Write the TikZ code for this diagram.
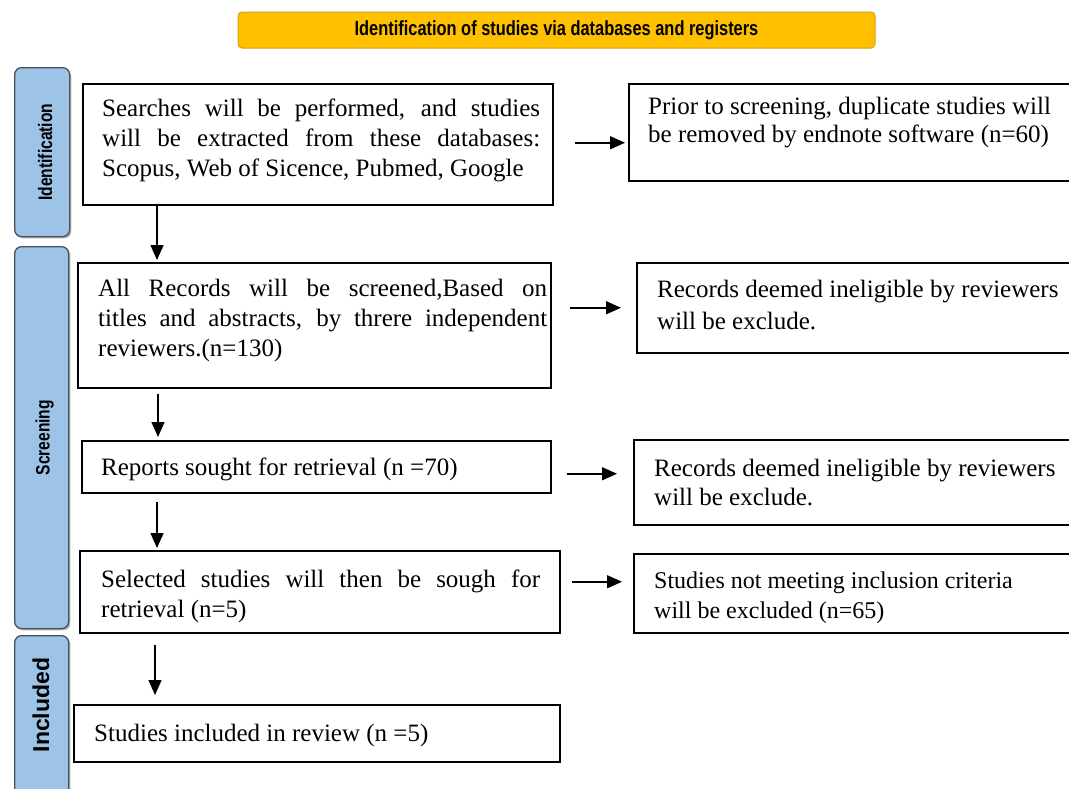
\documentclass[tikz,border=0pt]{standalone}
\usepackage{fontspec}
\setmainfont{Liberation Serif}
\newfontfamily\narrowsans[FakeStretch=0.8]{Liberation Sans}
\newfontfamily\plainsans{Liberation Sans}
\usetikzlibrary{arrows.meta,shadows,calc}
\definecolor{barblue}{RGB}{157,195,230}
\definecolor{baredge}{RGB}{70,80,95}
\definecolor{titlefill}{RGB}{255,192,0}
\definecolor{titleedge}{RGB}{214,160,20}
\begin{document}
\begin{tikzpicture}[x=1pt,y=-1pt,
  box/.style={draw=black, line width=1.5pt, anchor=north west, inner sep=0pt},
  txt/.style={anchor=north west, inner sep=0pt, font=\fontsize{25}{30}\selectfont},
  arr/.style={-{Triangle[length=15pt,width=13pt]}, line width=1.5pt},
  bar/.style={draw=baredge, fill=barblue, line width=1.3pt, rounded corners=7pt,
    drop shadow={shadow xshift=1.8pt, shadow yshift=-1.8pt, fill=black!55},
    anchor=north west, inner sep=0pt},
  barlabel/.style={rotate=90, inner sep=0pt, font=\narrowsans\bfseries\fontsize{19.5}{20}\selectfont},
  titlebox/.style={draw=titleedge, fill=titlefill, line width=1pt, rounded corners=4pt,
    minimum width=637pt, minimum height=36pt, inner sep=0pt,
    font=\narrowsans\bfseries\fontsize{20.5}{21}\selectfont},
  ]
\useasboundingbox (0,0) rectangle (1069,788);
\clip (0,0) rectangle (1069,788);
\fill[white] (0,0) rectangle (1069,788);

% title
\node[titlebox] (title) at (556.5,30) {Identification of studies via databases and registers};

% side bars
\node[bar, minimum width=55pt, minimum height=169pt] (barI) at (14,67) {};
\node[bar, minimum width=54pt, minimum height=382pt] (barS) at (14,246) {};
\node[bar, minimum width=54pt, minimum height=180pt] (barN) at (14,635) {};
\node[barlabel] (labI) at ([xshift=3pt]barI.center) {Identification};
\node[barlabel] (labS) at ([xshift=3pt]barS.center) {Screening};
\node[rotate=90, inner sep=0pt, font=\plainsans\bfseries\fontsize{23}{24}\selectfont] (labN) at (41,705) {Included};

% left boxes
\node[box, minimum width=470pt, minimum height=121pt] (b1) at (82,83) {};
\node[box, minimum width=473pt, minimum height=125pt] (b2) at (77,262) {};
\node[box, minimum width=469pt, minimum height=52pt] (b3) at (81,440) {};
\node[box, minimum width=480pt, minimum height=82pt] (b4) at (79,550) {};
\node[box, minimum width=486pt, minimum height=57pt] (b5) at (73,704) {};

% right boxes
\node[box, minimum width=452pt, minimum height=97pt] (r1) at (628,83) {};
\node[box, minimum width=444pt, minimum height=90pt] (r2) at (636,262) {};
\node[box, minimum width=447pt, minimum height=85pt] (r3) at (633,439) {};
\node[box, minimum width=447pt, minimum height=79pt] (r4) at (633,553) {};

% texts
\node[txt, text width=438pt, align=justify] (t1) at (102,95)
  {\strut Searches will be performed, and studies\linebreak will be extracted from these databases:\linebreak Scopus, Web of Sicence, Pubmed, Google};
\node[txt, text width=449pt, align=justify] (t2) at (98,275)
  {\strut All Records will be screened,Based on\linebreak titles and abstracts, by threre independent\linebreak reviewers.(n=130)};
\node[txt, align=left] (t3) at (101,454) {\strut Reports sought for retrieval (n =70)};
\node[txt, text width=439pt, align=justify] (t4) at (101,566)
  {\strut Selected studies will then be sough for\linebreak retrieval (n=5)};
\node[txt, align=left] (t5) at (94,720) {\strut Studies included in review (n =5)};

\node[txt, align=left, font=\fontsize{25}{28}\selectfont] (u1) at (648,95)
  {\strut Prior to screening, duplicate studies will\\be removed by endnote software (n=60)};
\node[txt, align=left, font=\fontsize{25}{32}\selectfont] (u2) at (657,275)
  {\strut Records deemed ineligible by reviewers\\will be exclude.};
\node[txt, align=left, font=\fontsize{25}{29}\selectfont] (u3) at (654,456)
  {\strut Records deemed ineligible by reviewers\\will be exclude.};
\node[txt, align=left, font=\fontsize{24}{30}\selectfont] (u4) at (654,567)
  {\strut Studies not meeting inclusion criteria\\will be excluded (n=65)};

% vertical arrows
\draw[arr, shorten >=2pt] ([xshift=75pt]b1.south west) -- ([xshift=75pt]b1.south west |- b2.north);
\draw[arr, shorten <=5pt, shorten >=3pt] ([xshift=81pt]b2.south west) -- ([xshift=81pt]b2.south west |- b3.north);
\draw[arr, shorten <=8pt, shorten >=2pt] ([xshift=76pt]b3.south west) -- ([xshift=76pt]b3.south west |- b4.north);
\draw[arr, shorten <=11pt, shorten >=9pt] ([xshift=76pt]b4.south west) -- ([xshift=76pt]b4.south west |- b5.north);

% horizontal arrows
\draw[arr, shorten <=21pt, shorten >=3pt] ([yshift=1.5pt]b1.east) -- ([yshift=1.5pt]b1.east -| r1.west);
\draw[arr, shorten <=18pt, shorten >=15pt] (r2.west -| b2.east) -- (r2.west);
\draw[arr, shorten <=15pt, shorten >=16pt] ([yshift=-7pt]b3.east) -- ([yshift=-7pt]b3.east -| r3.west);
\draw[arr, shorten <=11pt, shorten >=11pt] ([yshift=10pt]b4.east) -- ([yshift=10pt]b4.east -| r4.west);
\end{tikzpicture}
\end{document}
